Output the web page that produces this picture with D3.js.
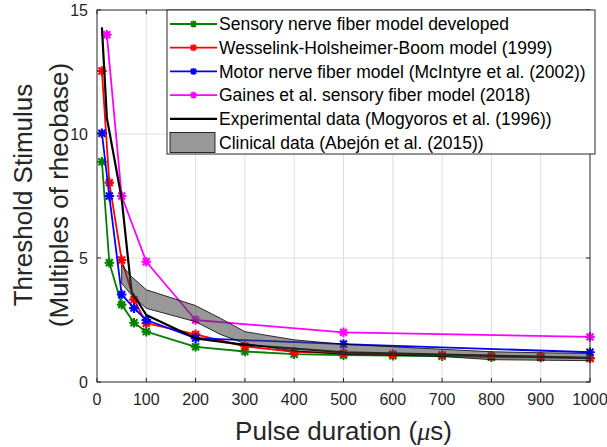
<!DOCTYPE html>
<html>
<head>
<meta charset="utf-8">
<title>Threshold stimulus vs pulse duration</title>
<style>
  body { margin: 0; background: #fff; }
  text { font-family: "Liberation Sans", Arial, sans-serif; }
</style>
</head>
<body>
<script src="https://cdn.jsdelivr.net/npm/d3@7"></script>
<script>
// data
const xTicks = [0, 100, 200, 300, 400, 500, 600, 700, 800, 900, 1000];
const yTicks = [0, 5, 10, 15];

const sensoryX = [10, 25, 50, 75, 100, 200, 300, 400, 500, 600, 700, 800, 900, 1000];
const sensoryY = [8.88, 4.81, 3.12, 2.39, 2.03, 1.42, 1.23, 1.12, 1.08, 1.06, 1.04, 1.0, 0.99, 0.97];

const wesselinkX = [10, 25, 50, 75, 100, 200, 300, 400, 500, 600, 700, 800, 900, 1000];
const wesselinkY = [12.54, 8.04, 4.92, 3.32, 2.37, 1.92, 1.44, 1.22, 1.16, 1.12, 1.09, 1.05, 1.02, 0.95];

const motorX = [10, 25, 50, 75, 100, 200, 500, 1000];
const motorY = [10.03, 7.5, 3.53, 2.98, 2.5, 1.77, 1.53, 1.2];

const gainesX = [20, 50, 100, 200, 500, 1000];
const gainesY = [14.0, 7.5, 4.85, 2.5, 2.0, 1.82];

const expX = [10, 20, 50, 70, 100, 200, 300, 500, 1000];
const expY = [14.3, 10.65, 7.4, 3.65, 2.7, 1.76, 1.5, 1.2, 0.97];

const clinicalX = [50, 70, 100, 200, 250, 300, 400, 500, 600, 700, 800, 900, 1000];
const clinicalUpper = [4.72, 4.25, 3.72, 3.08, 2.57, 2.03, 1.7, 1.52, 1.42, 1.32, 1.22, 1.18, 1.15];
const clinicalLower = [3.98, 3.5, 2.97, 2.43, 1.92, 1.55, 1.25, 1.12, 1.08, 1.03, 0.9, 0.88, 0.86];

const legendLabels = [
  "Sensory nerve fiber model developed",
  "Wesselink-Holsheimer-Boom model (1999)",
  "Motor nerve fiber model (McIntyre et al. (2002))",
  "Gaines et al. sensory fiber model (2018)",
  "Experimental data (Mogyoros et al. (1996))",
  "Clinical data (Abejón et al. (2015))"
];

// canvas
const width = 607, height = 447;
const margin = { left: 97, right: 17, top: 10, bottom: 65 };
const w = width - margin.left - margin.right,
      h = height - margin.top - margin.bottom;

const svg = d3.select("body").append("svg")
  .attr("width", width).attr("height", height);

const x = d3.scaleLinear().domain([0, 1000]).range([0, w]);
const y = d3.scaleLinear().domain([0, 15]).range([h, 0]);

const g = svg.append("g").attr("transform", `translate(${margin.left},${margin.top})`);

// grid
g.append("g").selectAll("line").data(xTicks.slice(1, -1)).enter().append("line")
  .attr("x1", d => x(d)).attr("x2", d => x(d)).attr("y1", 0).attr("y2", h)
  .attr("stroke", "#dedede").attr("stroke-width", 1);
g.append("g").selectAll("line").data(yTicks.slice(1, -1)).enter().append("line")
  .attr("y1", d => y(d)).attr("y2", d => y(d)).attr("x1", 0).attr("x2", w)
  .attr("stroke", "#dedede").attr("stroke-width", 1);

// series
const series = [
  { xs: sensoryX, ys: sensoryY, color: "#008000", marker: true },
  { xs: wesselinkX, ys: wesselinkY, color: "#ff0000", marker: true },
  { xs: motorX, ys: motorY, color: "#0000ff", marker: true },
  { xs: gainesX, ys: gainesY, color: "#ff00ff", marker: true },
  { xs: expX, ys: expY, color: "#000000", marker: false }
];

const line = d3.line().x(d => x(d[0])).y(d => y(d[1]));

function star(s) {
  const a = s * 0.72;
  return `M${-s},0H${s}M0,${-s}V${s}M${-a},${-a}L${a},${a}M${-a},${a}L${a},${-a}`;
}

series.forEach(sr => {
  const pts = sr.xs.map((v, i) => [v, sr.ys[i]]);
  g.append("path").datum(pts)
    .attr("d", line)
    .attr("fill", "none")
    .attr("stroke", sr.color)
    .attr("stroke-width", sr.marker ? 1.8 : 2.2)
    .attr("stroke-linejoin", "round");
  if (sr.marker) {
    g.append("g").selectAll("path").data(pts).enter().append("path")
      .attr("transform", d => `translate(${x(d[0])},${y(d[1])})`)
      .attr("d", star(4.8))
      .attr("stroke", sr.color)
      .attr("stroke-width", 2.1)
      .attr("fill", "none");
  }
});

// clinical band (semi transparent, on top)
const band = clinicalX.map((v, i) => [v, clinicalUpper[i]])
  .concat(clinicalX.map((v, i) => [v, clinicalLower[i]]).reverse());
g.append("path").datum(band)
  .attr("d", d => line(d) + "Z")
  .attr("fill", "#444")
  .attr("fill-opacity", 0.55)
  .attr("stroke", "#000")
  .attr("stroke-width", 0.8);

// axes box
g.append("rect").attr("x", 0).attr("y", 0).attr("width", w).attr("height", h)
  .attr("fill", "none").attr("stroke", "#262626").attr("stroke-width", 1);

// inner ticks
const tl = 4;
g.append("g").selectAll("line").data(xTicks).enter().append("line")
  .attr("x1", d => x(d)).attr("x2", d => x(d)).attr("y1", h).attr("y2", h - tl)
  .attr("stroke", "#262626");
g.append("g").selectAll("line").data(xTicks).enter().append("line")
  .attr("x1", d => x(d)).attr("x2", d => x(d)).attr("y1", 0).attr("y2", tl)
  .attr("stroke", "#262626");
g.append("g").selectAll("line").data(yTicks).enter().append("line")
  .attr("y1", d => y(d)).attr("y2", d => y(d)).attr("x1", 0).attr("x2", tl)
  .attr("stroke", "#262626");
g.append("g").selectAll("line").data(yTicks).enter().append("line")
  .attr("y1", d => y(d)).attr("y2", d => y(d)).attr("x1", w).attr("x2", w - tl)
  .attr("stroke", "#262626");

// tick labels
g.append("g").selectAll("text").data(xTicks).enter().append("text")
  .attr("x", d => x(d)).attr("y", h + 23)
  .attr("text-anchor", "middle")
  .attr("font-size", 16).attr("fill", "#262626")
  .text(d => d);
g.append("g").selectAll("text").data(yTicks).enter().append("text")
  .attr("x", -9).attr("y", d => y(d)).attr("dy", "0.35em")
  .attr("text-anchor", "end")
  .attr("font-size", 16).attr("fill", "#262626")
  .text(d => d);

// axis labels
const xl = svg.append("text")
  .attr("x", margin.left + w / 2).attr("y", 440)
  .attr("text-anchor", "middle")
  .attr("font-size", 26).attr("fill", "#262626");
xl.append("tspan").text("Pulse duration (");
xl.append("tspan").attr("font-family", "Liberation Serif, serif").attr("font-style", "italic").text("μ");
xl.append("tspan").text("s)");

const yl = svg.append("text")
  .attr("transform", `translate(32,195) rotate(-90)`)
  .attr("text-anchor", "middle")
  .attr("font-size", 26).attr("fill", "#262626");
yl.append("tspan").attr("x", 0).attr("y", 0).text("Threshold Stimulus");
yl.append("tspan").attr("x", 0).attr("y", 36).text("(Multiples of rheobase)");

// legend
const lg = svg.append("g").attr("transform", "translate(167,10)");
lg.append("rect").attr("x", 0).attr("y", 0).attr("width", 428).attr("height", 144)
  .attr("fill", "#fff").attr("stroke", "#262626").attr("stroke-width", 1);

const rowH = 23.7, row0 = 14;
legendLabels.forEach((lab, i) => {
  const cy = row0 + i * rowH;
  if (i < 5) {
    const sr = series[i];
    lg.append("line").attr("x1", 3).attr("x2", 50).attr("y1", cy).attr("y2", cy)
      .attr("stroke", sr.color).attr("stroke-width", sr.marker ? 1.8 : 2.2);
    if (sr.marker) {
      lg.append("path").attr("transform", `translate(26.5,${cy})`)
        .attr("d", star(3.5)).attr("stroke", sr.color).attr("stroke-width", 1.8).attr("fill", "none");
    }
  } else {
    lg.append("rect").attr("x", 3).attr("y", cy - 10).attr("width", 45).attr("height", 20)
      .attr("fill", "#444").attr("fill-opacity", 0.55)
      .attr("stroke", "#000").attr("stroke-width", 0.8);
  }
  lg.append("text").attr("x", 52).attr("y", cy).attr("dy", "0.35em")
    .attr("font-size", 17.5).attr("fill", "#000")
    .text(lab);
});
</script>
</body>
</html>
